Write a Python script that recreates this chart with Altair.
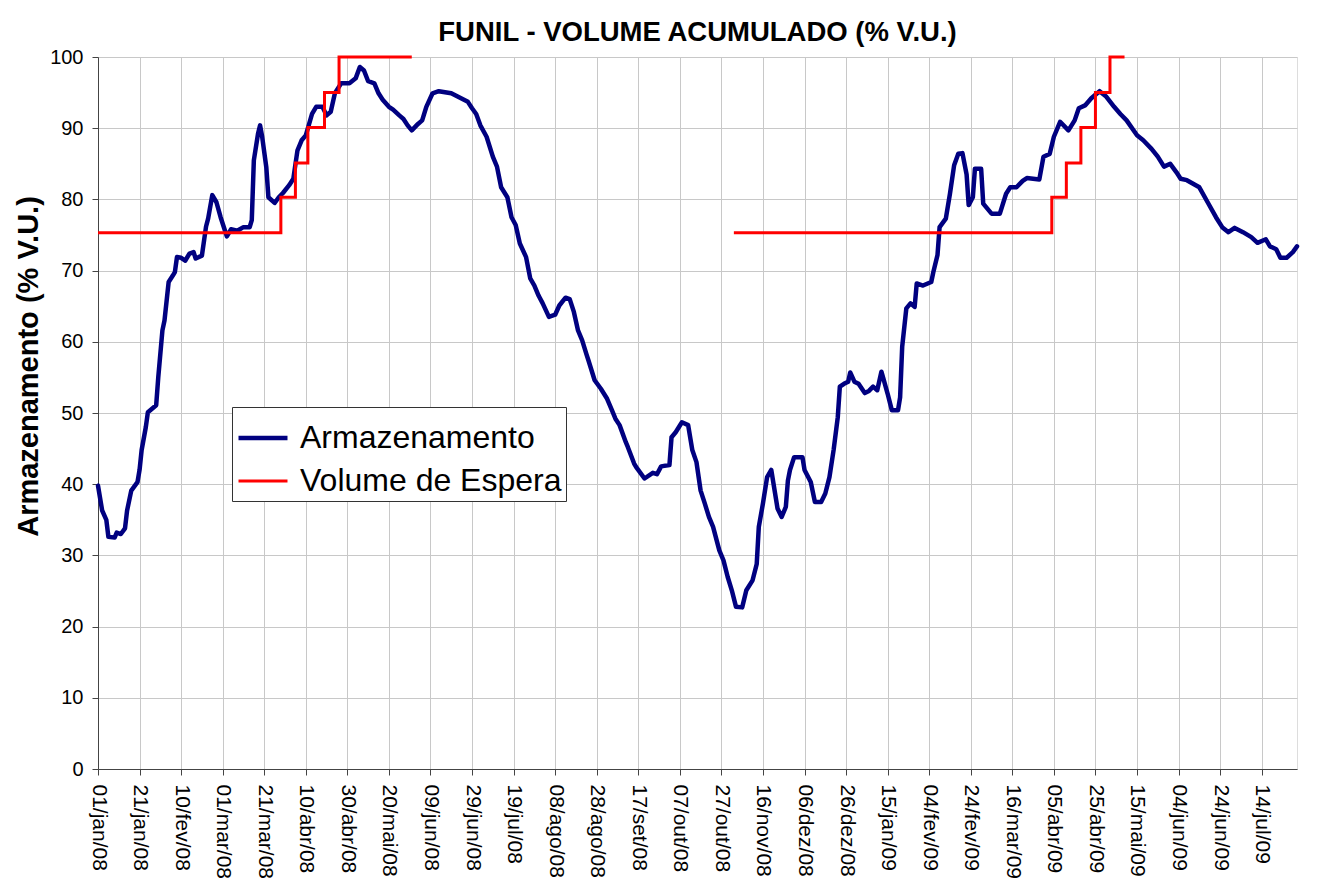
import altair as alt
import pandas as pd

START = "2008-01-01"
END = "2009-07-31"

# Armazenamento (% V.U.) -- days after 01/jan/08 and values
arm_days = [0, 2, 4, 5, 8, 9, 11, 13, 14, 16, 19, 20, 21, 23, 24, 26, 28, 29, 31, 32,
            34, 36, 37, 38, 40, 42, 44, 46, 47, 50, 52, 53, 55, 57, 59, 61, 62, 64, 67, 70,
            73, 74, 75, 77, 78, 79, 81, 82, 85, 87, 89, 92, 94, 96, 98, 100, 103, 105, 108, 110,
            112, 114, 117, 121, 124, 126, 128, 130, 133, 135, 137, 140, 142, 145, 147, 149, 151, 154, 156, 158,
            161, 164, 170, 174, 178, 180, 182, 184, 187, 190, 192, 194, 197, 199, 201, 203, 206, 208, 210, 212,
            214, 217, 220, 222, 225, 227, 229, 231, 233, 235, 236, 239, 242, 245, 247, 249, 251, 254, 255, 258,
            259, 263, 267, 269, 271, 275, 276, 278, 281, 284, 286, 288, 290, 292, 294, 296, 299, 301, 303, 305,
            307, 310, 312, 315, 317, 318, 320, 322, 324, 327, 329, 331, 332, 333, 335, 339, 340, 343, 345, 348,
            350, 352, 354, 356, 357, 359, 361, 362, 364, 366, 369, 371, 373, 375, 377, 378, 380, 382, 385, 386,
            387, 389, 391, 393, 394, 397, 401, 402, 404, 405, 408, 410, 412, 414, 416, 418, 419, 421, 422, 425,
            426, 430, 434, 437, 439, 442, 445, 447, 453, 455, 458, 460, 463, 467, 470, 472, 475, 478, 482, 485,
            489, 492, 495, 500, 503, 507, 510, 513, 516, 519, 521, 524, 527, 530, 534, 538, 541, 544, 547, 551,
            555, 558, 562, 564, 567, 569, 572, 575, 577]
arm_vals = [39.8, 36.3, 35.0, 32.6, 32.5, 33.2, 33.0, 33.8, 36.3, 39.1, 40.3, 42.0, 44.8, 48.0, 50.1, 50.6, 51.1, 55.0, 61.6, 63.0,
            68.4, 69.3, 69.8, 71.9, 71.8, 71.4, 72.4, 72.6, 71.7, 72.1, 76.2, 77.3, 80.6, 79.6, 77.5, 75.7, 74.8, 75.8, 75.6, 76.1,
            76.1, 77.1, 85.5, 89.2, 90.4, 88.8, 84.5, 80.3, 79.5, 80.3, 80.9, 82.0, 82.9, 86.9, 88.3, 89.0, 92.0, 93.0, 93.0, 91.8,
            92.3, 94.9, 96.3, 96.3, 97.0, 98.6, 98.1, 96.6, 96.3, 94.9, 94.0, 93.0, 92.6, 91.8, 91.3, 90.4, 89.7, 90.6, 91.1, 93.0,
            94.9, 95.2, 94.9, 94.3, 93.7, 92.8, 92.0, 90.4, 88.8, 86.0, 84.6, 81.7, 80.3, 77.5, 76.4, 73.8, 71.9, 68.9, 67.9, 66.5,
            65.4, 63.5, 63.8, 65.1, 66.2, 66.0, 64.2, 61.6, 60.2, 58.3, 57.4, 54.6, 53.4, 52.0, 50.6, 49.2, 48.3, 45.9, 45.2, 42.9,
            42.4, 40.8, 41.6, 41.4, 42.5, 42.7, 46.6, 47.3, 48.7, 48.3, 44.8, 43.1, 39.1, 37.3, 35.4, 34.0, 30.7, 29.3, 27.0, 25.1,
            22.8, 22.7, 25.1, 26.5, 28.8, 34.0, 37.3, 41.0, 42.0, 36.6, 35.4, 36.8, 40.5, 42.0, 43.8, 43.8, 42.0, 40.3, 37.5, 37.5,
            38.7, 41.0, 44.8, 49.4, 53.7, 54.1, 54.4, 55.7, 54.4, 54.1, 52.8, 53.1, 53.7, 53.2, 55.8, 54.8, 52.7, 50.4, 50.4, 52.2,
            59.3, 64.7, 65.4, 64.9, 68.2, 67.9, 68.4, 69.8, 72.2, 76.1, 77.3, 80.8, 84.8, 86.4, 86.5, 83.5, 79.2, 80.3, 84.3, 84.3,
            79.4, 78.0, 78.0, 80.8, 81.7, 81.7, 82.6, 83.0, 82.8, 86.0, 86.4, 88.8, 90.9, 89.7, 91.1, 92.8, 93.2, 94.2, 95.2, 94.5,
            93.0, 92.0, 91.1, 89.0, 88.3, 87.1, 86.0, 84.6, 85.0, 83.8, 82.9, 82.7, 82.2, 81.7, 79.6, 77.5, 76.1, 75.4, 76.0, 75.4,
            74.7, 73.9, 74.4, 73.4, 73.0, 71.8, 71.8, 72.6, 73.4]

# Volume de Espera (% V.U.) -- two step segments (days after 01/jan/08)
esp_days_1 = [0, 88, 95, 101, 109, 116, 151]
esp_vals_1 = [75.3, 80.3, 85.1, 90.1, 95.0, 100.0, 100.0]
esp_days_2 = [306, 459, 466, 473, 480, 487, 494]
esp_vals_2 = [75.3, 80.3, 85.1, 90.1, 95.0, 100.0, 100.0]

SERIES = ["Armazenamento", "Volume de Espera"]
COLORS = ["#000080", "#FF0000"]
WIDTHS = [4.5, 3.0]
MONTHS = ["jan", "fev", "mar", "abr", "mai", "jun", "jul", "ago", "set", "out", "nov", "dez"]

t0 = pd.Timestamp(START)
arm = pd.DataFrame({
    "data": [(t0 + pd.Timedelta(days=d)).strftime("%Y-%m-%d") for d in arm_days],
    "valor": arm_vals,
    "serie": SERIES[0],
})
esp = pd.concat([
    pd.DataFrame({"data": [(t0 + pd.Timedelta(days=d)).strftime("%Y-%m-%d") for d in esp_days_1],
                  "valor": esp_vals_1, "seg": 1}),
    pd.DataFrame({"data": [(t0 + pd.Timedelta(days=d)).strftime("%Y-%m-%d") for d in esp_days_2],
                  "valor": esp_vals_2, "seg": 2}),
])
esp["serie"] = SERIES[1]

tick_dates = pd.date_range(START, periods=29, freq="20D", tz="UTC")
tick_ms = [int(t.value // 10**6) for t in tick_dates]

FONT = "Liberation Sans"
label_expr = ("utcFormat(datum.value, '%d') + '/' + " + str(MONTHS).replace('"', "'")
              + "[utcmonth(datum.value)] + '/' + utcFormat(datum.value, '%y')")

x_enc = alt.X("data:T",
              scale=alt.Scale(type="utc", domain=[START, END], nice=False),
              axis=alt.Axis(values=tick_ms, labelExpr=label_expr, labelAngle=90,
                            labelFontSize=21, labelFont=FONT, labelColor="#000",
                            labelPadding=9, tickSize=6, tickColor="#444",
                            domainColor="#444", gridColor="#c8c8c8", title=None,
                            labelOverlap=False, labelFlush=False))
y_enc = alt.Y("valor:Q",
              scale=alt.Scale(domain=[0, 100], nice=False),
              axis=alt.Axis(values=list(range(0, 101, 10)), labelFontSize=20, labelFont=FONT,
                            labelColor="#000", labelPadding=9, tickSize=6, tickColor="#444",
                            domainColor="#444", gridColor="#c8c8c8",
                            title="Armazenamento (% V.U.)", titleFont=FONT, titleFontSize=29,
                            titleFontWeight="bold", titleColor="#000", titleAngle=270,
                            titleX=-61, titleY=309, titleAlign="center",
                            titleBaseline="alphabetic"))
color_enc = alt.Color("serie:N", scale=alt.Scale(domain=SERIES, range=COLORS),
                      legend=alt.Legend(title=None, orient="none", legendX=134, legendY=350,
                                        symbolType="stroke", symbolSize=2400,
                                        labelFontSize=32, labelFont=FONT, labelColor="#000",
                                        labelOffset=10, padding=4, rowPadding=1,
                                        strokeColor="#333", fillColor="white",
                                        labelLimit=400))
width_enc = alt.StrokeWidth("serie:N", scale=alt.Scale(domain=SERIES, range=WIDTHS),
                            legend=None)

blue = alt.Chart(arm).mark_line(strokeJoin="round", strokeCap="round").encode(
    x=x_enc, y=y_enc, color=color_enc, strokeWidth=width_enc)
red = alt.Chart(esp).mark_line(interpolate="step-after").encode(
    x=x_enc, y=y_enc, color=color_enc, strokeWidth=width_enc, detail="seg:N")

chart = alt.layer(blue, red).properties(
    width=1199, height=712,
    title=alt.Title("FUNIL - VOLUME ACUMULADO (% V.U.)", font=FONT, fontSize=27.5,
                    fontWeight="bold", color="#000", anchor="middle", offset=1),
    autosize=alt.AutoSizeParams(type="none"),
    padding={"left": 90, "top": 49, "right": 15, "bottom": 109},
).configure_view(stroke="#444", strokeWidth=1).configure(background="white")

chart.save("out.html", embed_options={"renderer": "svg", "actions": False})
